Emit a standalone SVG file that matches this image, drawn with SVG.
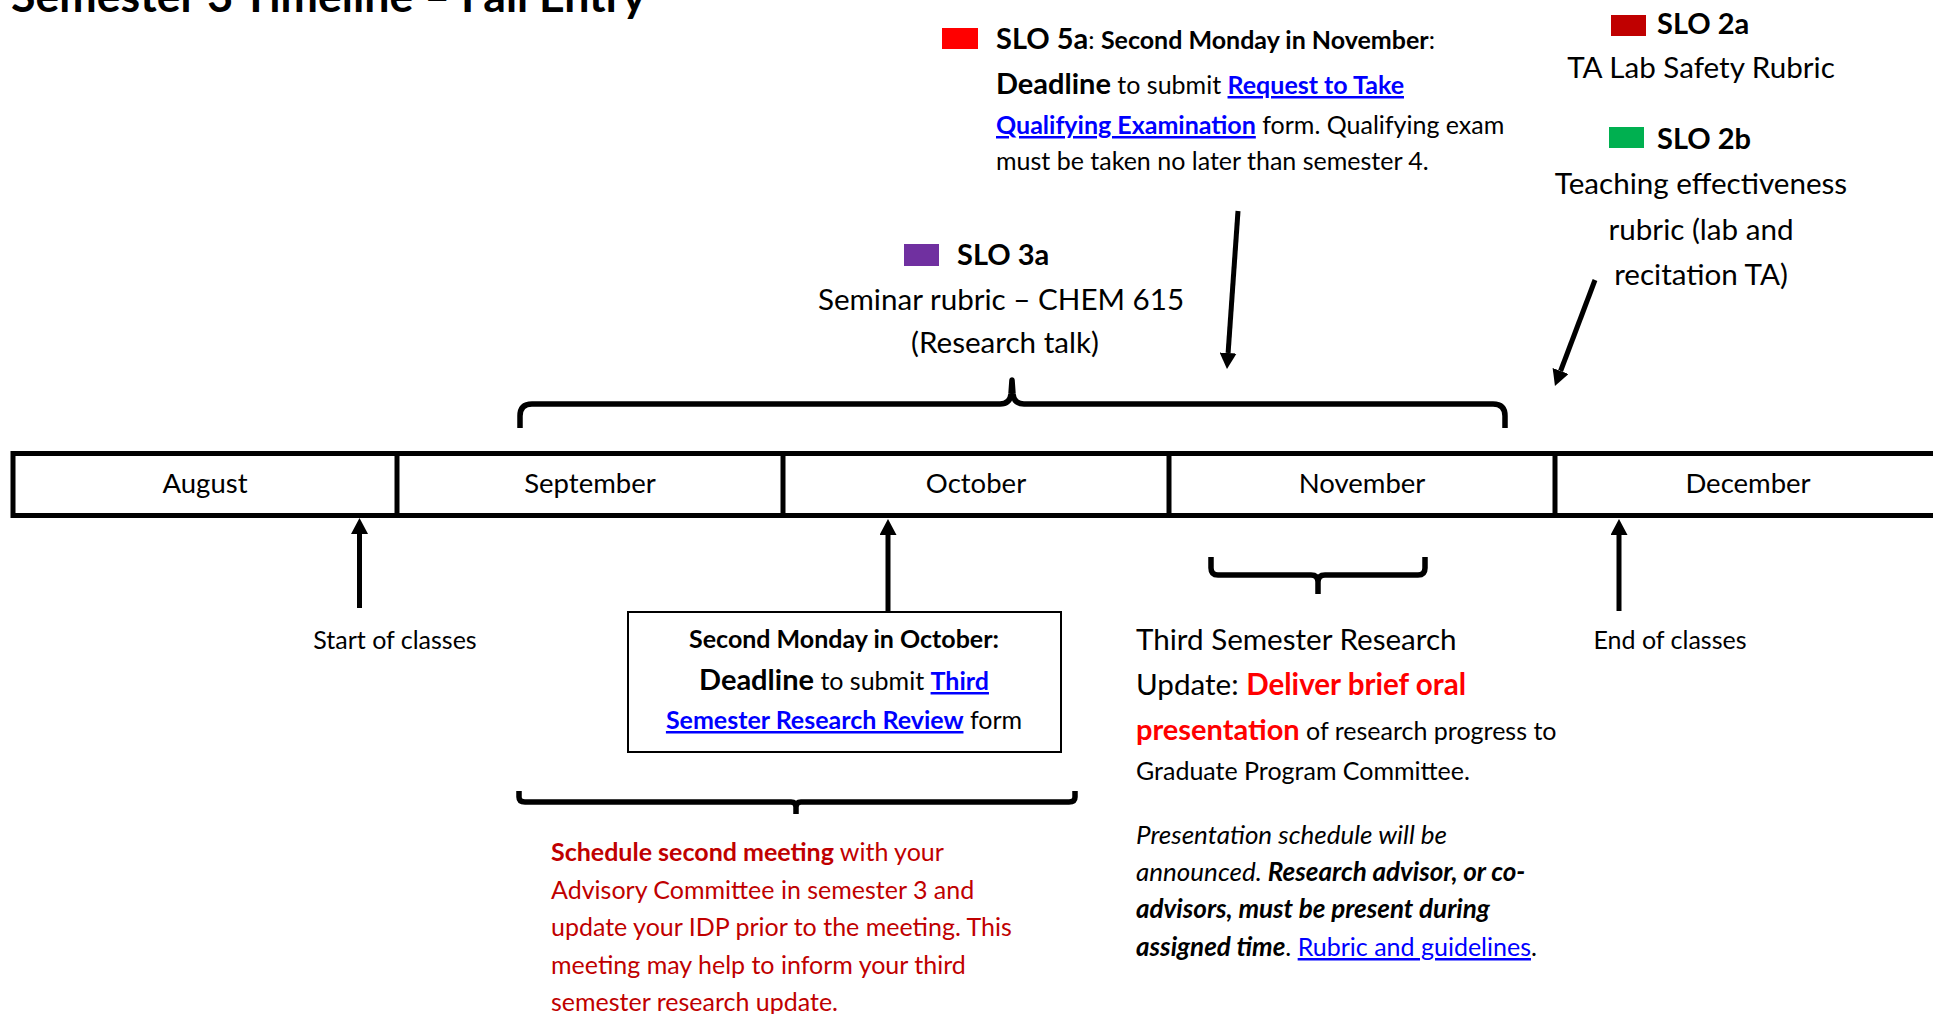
<svg xmlns="http://www.w3.org/2000/svg" width="1933" height="1014" viewBox="0 0 1933 1014">
<style>
text{font-family:Lato,"Liberation Sans",sans-serif;fill:#000}
.s{font-size:25px}
.l{font-size:29.6px}
.lb{font-size:29px;font-weight:bold}
.m{font-size:27.5px}
.b{font-weight:bold}
.i{font-style:italic;font-size:26px}
.lk{fill:#0000FF;text-decoration:underline}
.red{fill:#FF0000}
.dred{fill:#C00000}
.c{text-anchor:middle}
.ln{stroke:#000;stroke-width:5;fill:none}
.br{stroke:#000;stroke-width:5.5;fill:none;stroke-linejoin:round}
</style>
<defs>
<marker id="ah" viewBox="0 0 16 17" refX="0" refY="8.5" markerWidth="16" markerHeight="17" markerUnits="userSpaceOnUse" orient="auto">
<path d="M0,0 L16,8.5 L0,17 Z" fill="#000"/>
</marker>
</defs>
<rect width="1933" height="1014" fill="#fff"/>

<g id="title"><text x="11" y="12" class="b" font-size="44.7">Semester 3 Timeline – Fall Entry</text></g>

<g id="timeline">
<rect x="13" y="453.5" width="1930" height="62" fill="#fff" stroke="#000" stroke-width="5"/>
<line x1="397" y1="453.5" x2="397" y2="515.5" class="ln"/>
<line x1="783" y1="453.5" x2="783" y2="515.5" class="ln"/>
<line x1="1169" y1="453.5" x2="1169" y2="515.5" class="ln"/>
<line x1="1555" y1="453.5" x2="1555" y2="515.5" class="ln"/>
<text x="205" y="493" class="m c">August</text>
<text x="590" y="493" class="m c">September</text>
<text x="976" y="493" class="m c">October</text>
<text x="1362" y="493" class="m c">November</text>
<text x="1748" y="493" class="m c">December</text>
</g>

<g id="slo5a">
<rect x="942" y="28" width="36" height="21" fill="#FF0000"/>
<text x="996" y="49"><tspan class="lb">SLO 5a</tspan><tspan class="s">: </tspan><tspan class="s b">Second Monday in November</tspan><tspan class="s">:</tspan></text>
<text x="996" y="94"><tspan class="lb">Deadline</tspan><tspan class="s"> to submit </tspan><tspan class="s b lk">Request to Take</tspan></text>
<text x="996" y="134" class="s"><tspan class="b lk">Qualifying Examination</tspan> form. Qualifying exam</text>
<text x="996" y="170" class="s">must be taken no later than semester 4.</text>
</g>

<g id="slo2a">
<rect x="1611" y="15" width="35" height="21" fill="#C00000"/>
<text x="1657" y="34" class="lb">SLO 2a</text>
<text x="1701" y="78" class="l c">TA Lab Safety Rubric</text>
</g>

<g id="slo2b">
<rect x="1609" y="127" width="35" height="21" fill="#00B050"/>
<text x="1657" y="149" class="lb">SLO 2b</text>
<text x="1701" y="194" class="l c">Teaching effectiveness</text>
<text x="1701" y="240" class="l c">rubric (lab and</text>
<text x="1701" y="285" class="l c">recitation TA)</text>
</g>

<g id="slo3a">
<rect x="904" y="244" width="35" height="22" fill="#7030A0"/>
<text x="957" y="265" class="lb">SLO 3a</text>
<text x="1001" y="310" class="l c">Seminar rubric – CHEM 615</text>
<text x="1005" y="353" class="l c">(Research talk)</text>
</g>

<g id="start-classes">
<text x="395" y="649" class="s c">Start of classes</text>
</g>

<g id="end-classes">
<text x="1670" y="649" class="s c">End of classes</text>
</g>

<g id="october-box">
<rect x="628" y="612" width="433" height="140" fill="#fff" stroke="#000" stroke-width="2"/>
<text x="844" y="648" class="s b c">Second Monday in October:</text>
<text x="844" y="690" class="c"><tspan class="lb">Deadline</tspan><tspan class="s"> to submit </tspan><tspan class="s b lk">Third</tspan></text>
<text x="844" y="729" class="s c"><tspan class="b lk">Semester Research Review</tspan> form</text>
</g>

<g id="research-update">
<text x="1136" y="650" class="l">Third Semester Research</text>
<text x="1136" y="695" class="l">Update: <tspan class="b red">Deliver brief oral</tspan></text>
<text x="1136" y="740"><tspan class="lb red">presentation</tspan><tspan class="s"> of research progress to</tspan></text>
<text x="1136" y="780" class="s">Graduate Program Committee.</text>
<text x="1136" y="844" class="i">Presentation schedule will be</text>
<text x="1136" y="881" class="i">announced. <tspan class="b">Research advisor, or co-</tspan></text>
<text x="1136" y="918" class="i b">advisors, must be present during</text>
<text x="1136" y="956" class="s"><tspan class="i b">assigned time</tspan>. <tspan class="lk">Rubric and guidelines</tspan>.</text>
</g>

<g id="meeting">
<text x="551" y="861" class="s dred"><tspan class="b">Schedule second meeting</tspan> with your</text>
<text x="551" y="899" class="s dred">Advisory Committee in semester 3 and</text>
<text x="551" y="936" class="s dred">update your IDP prior to the meeting. This</text>
<text x="551" y="974" class="s dred">meeting may help to inform your third</text>
<text x="551" y="1011" class="s dred">semester research update.</text>
</g>

<g id="connectors">
<line x1="359.5" y1="608" x2="359.5" y2="534" class="ln" marker-end="url(#ah)"/>
<line x1="888" y1="611" x2="888" y2="535" class="ln" marker-end="url(#ah)"/>
<line x1="1619" y1="611" x2="1619" y2="535" class="ln" marker-end="url(#ah)"/>
<line x1="1238" y1="211" x2="1228.1" y2="353" class="ln" marker-end="url(#ah)"/>
<line x1="1595" y1="280" x2="1560.6" y2="371" class="ln" marker-end="url(#ah)"/>
<path class="br" d="M520,428 L520,416 Q520,404 532,404 L1000,404 Q1010,404 1011,394 L1012,380 L1013,394 Q1014,404 1024,404 L1493,404 Q1505,404 1505,416 L1505,428"/>
<path class="br" d="M1211,557 L1211,568 Q1211,575 1218,575 L1311,575 Q1318,575 1318,582 L1318,594 M1318,582 Q1318,575 1325,575 L1418,575 Q1425,575 1425,568 L1425,557"/>
<path class="br" d="M519,791 L519,797 Q519,802 525,802 L791,802 Q796,802 796,807 L796,814 M796,807 Q796,802 801,802 L1069,802 Q1075,802 1075,797 L1075,791"/>
</g>
</svg>
